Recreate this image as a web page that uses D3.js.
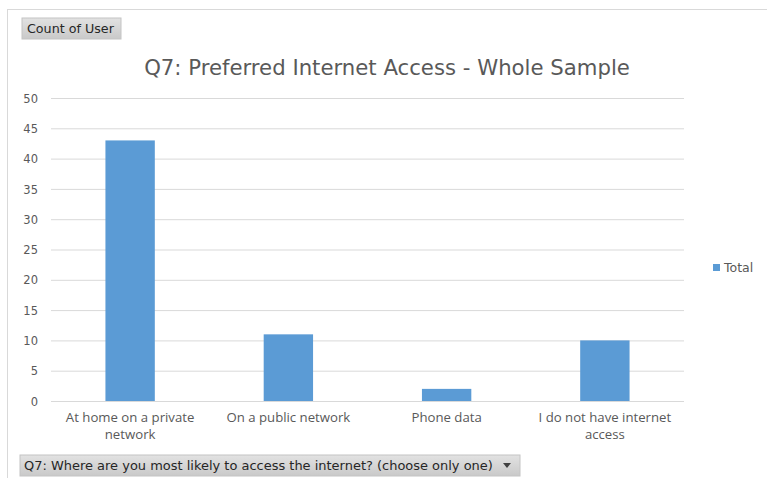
<!DOCTYPE html>
<html>
<head>
<meta charset="utf-8">
<script src="https://cdn.jsdelivr.net/npm/d3@7"></script>
<style>
  html, body { margin: 0; padding: 0; background: #fff; }
  svg { display: block; }
</style>
</head>
<body>
<svg id="chart" width="767" height="478"></svg>
<script>
// Pivot chart data: count of users per preferred access option
const categories = [
  ["At home on a private", "network"],
  ["On a public network"],
  ["Phone data"],
  ["I do not have internet", "access"]
];
const totals = [43, 11, 2, 10];
const yTicks = [0, 5, 10, 15, 20, 25, 30, 35, 40, 45, 50];
const seriesName = "Total";
const chartTitle = "Q7: Preferred Internet Access - Whole Sample";
const valueField = "Count of User";
const axisField = "Q7: Where are you most likely to access the internet? (choose only one)";

const svg = d3.select("#chart");
const W = 767, H = 478;
const textColor = "#595959";
const barColor = "#5b9bd5";
const gridColor = "#d9d9d9";

// Shrink/grow a text element's font-size so it spans a given width
function fitWidth(sel, target) {
  const node = sel.node();
  const fs = parseFloat(sel.attr("font-size"));
  const w = node.getComputedTextLength();
  if (w > 0) sel.attr("font-size", (fs * target / w).toFixed(2));
  return sel;
}

// Chart area frame (top and left edges visible)
svg.append("rect").attr("x", 7.5).attr("y", 9.5).attr("width", W).attr("height", H)
  .attr("fill", "#fff").attr("stroke", "#d9d9d9").attr("stroke-width", 1);

// Grey gradient for the pivot field buttons
const defs = svg.append("defs");
const grad = defs.append("linearGradient").attr("id", "btn").attr("x1", 0).attr("y1", 0).attr("x2", 0).attr("y2", 1);
grad.append("stop").attr("offset", "0%").attr("stop-color", "#e2e2e2");
grad.append("stop").attr("offset", "100%").attr("stop-color", "#c9c9c9");

// Value field button
svg.append("rect").attr("x", 22).attr("y", 18).attr("width", 99).attr("height", 21)
  .attr("fill", "url(#btn)").attr("stroke", "#c4c4c4");
const vf = svg.append("text").attr("x", 27).attr("y", 33)
  .attr("font-family", "DejaVu Sans, Verdana, sans-serif").attr("font-size", 11)
  .attr("fill", "#262626").text(valueField);
fitWidth(vf, 87);

// Title
const title = svg.append("text").attr("x", 387).attr("y", 75).attr("text-anchor", "middle")
  .attr("font-family", "DejaVu Sans, Verdana, sans-serif").attr("font-size", 18)
  .attr("fill", textColor).text(chartTitle);
fitWidth(title, 486);

// Plot scales
const plot = { left: 51, right: 684, top: 98, bottom: 401 };
const x = d3.scaleBand().domain(d3.range(categories.length))
  .range([plot.left, plot.right]).paddingInner(0.688).paddingOuter(0.344);
const y = d3.scaleLinear().domain([0, 50]).range([plot.bottom, plot.top]);

// Horizontal gridlines
const gridAxis = d3.axisLeft(y).tickValues(yTicks).tickSize(-(plot.right - plot.left)).tickFormat("");
const g = svg.append("g").attr("transform", `translate(${plot.left},0)`).call(gridAxis);
g.select(".domain").remove();
g.selectAll(".tick line").attr("stroke", gridColor).attr("stroke-width", 1);

// Y tick labels
const yAxis = d3.axisLeft(y).tickValues(yTicks).tickSize(0).tickPadding(0);
const ya = svg.append("g").attr("transform", `translate(38,0)`).call(yAxis);
ya.select(".domain").remove();
ya.selectAll(".tick text").attr("fill", textColor)
  .attr("font-family", "DejaVu Sans, Verdana, sans-serif").attr("font-size", 11.5)
  .attr("dy", "0.36em");

// Bars
svg.append("g").selectAll("rect").data(totals).join("rect")
  .attr("x", (d, i) => x(i))
  .attr("width", x.bandwidth())
  .attr("y", d => y(d))
  .attr("height", d => y(0) - y(d))
  .attr("fill", barColor);

// Category labels (wrapped over two lines where needed)
const labels = svg.append("g").selectAll("text").data(categories).join("text")
  .attr("x", (d, i) => x(i) + x.bandwidth() / 2)
  .attr("y", 422)
  .attr("text-anchor", "middle")
  .attr("font-family", "Open Sans, Noto Sans, sans-serif").attr("font-size", 13.2)
  .attr("fill", textColor);
labels.each(function(lines) {
  const t = d3.select(this);
  lines.forEach((ln, k) => {
    t.append("tspan").attr("x", t.attr("x")).attr("dy", k === 0 ? 0 : 17).text(ln);
  });
});

// Legend
svg.append("rect").attr("x", 713).attr("y", 264).attr("width", 7).attr("height", 7).attr("fill", barColor);
svg.append("text").attr("x", 724).attr("y", 271.5)
  .attr("font-family", "DejaVu Sans, Verdana, sans-serif").attr("font-size", 12.5)
  .attr("fill", textColor).text(seriesName);

// Axis field button with dropdown arrow
svg.append("rect").attr("x", 20).attr("y", 455).attr("width", 500).attr("height", 21)
  .attr("fill", "url(#btn)").attr("stroke", "#c4c4c4");
const af = svg.append("text").attr("x", 24).attr("y", 470)
  .attr("font-family", "DejaVu Sans, Verdana, sans-serif").attr("font-size", 11)
  .attr("fill", "#262626").text(axisField);
fitWidth(af, 469);
svg.append("path").attr("d", "M503,463 L511,463 L507,468 Z").attr("fill", "#404040");
</script>
</body>
</html>
